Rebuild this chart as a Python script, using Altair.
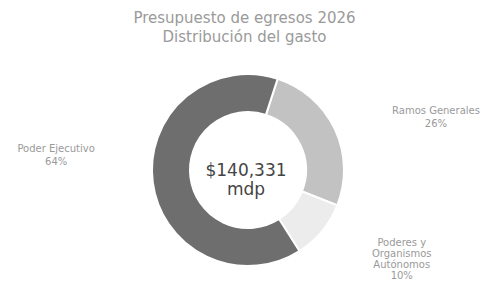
import math
import altair as alt
import pandas as pd

categories = ["Ramos Generales", "Poderes y Organismos Autónomos", "Poder Ejecutivo"]
shares = [26, 10, 64]
label_texts = ["Ramos Generales\n26%", "Poderes y\nOrganismos\nAutónomos\n10%", "Poder Ejecutivo\n64%"]
colors = ["#c2c2c2", "#ececec", "#6e6e6e"]
title_lines = ["Presupuesto de egresos 2026", "Distribución del gasto"]
center_lines = ["$140,331", "mdp"]

df = pd.DataFrame({
    "cat": categories,
    "share": shares,
    "label": label_texts,
    "idx": list(range(len(categories))),
})

start = 0.314
total = sum(shares)
FONT = "DejaVu Sans"
W, H = 473, 274
CX, CY = 240, 162

arc = alt.Chart(df).mark_arc(innerRadius=58, outerRadius=96, stroke="white", strokeWidth=2).encode(
    theta=alt.Theta("share:Q", stack=True, scale=alt.Scale(range=[start, start + 2 * math.pi])),
    order=alt.Order("idx:Q"),
    color=alt.Color("cat:N", scale=alt.Scale(domain=categories, range=colors), legend=None),
    x=alt.value(CX), y=alt.value(CY),
)

label_base = alt.Chart(df).transform_window(
    cum="sum(share)", sort=[alt.SortField("idx")], frame=[None, 0]
).transform_calculate(mid="datum.cum - datum.share / 2")


def label_layer(cat, radius, offset, lh):
    return label_base.transform_filter(alt.datum.cat == cat).mark_text(
        font=FONT, fontSize=10, lineHeight=lh, color="#9a9a9a", lineBreak="\n",
        radius=radius, thetaOffset=offset, align="center", baseline="middle",
    ).encode(
        theta=alt.Theta("mid:Q", scale=alt.Scale(domain=[0, total], range=[start, start + 2 * math.pi])),
        text="label:N", x=alt.value(CX), y=alt.value(CY),
    )


labels = (
    label_layer(categories[0], 197, 0.136, 12.5)
    + label_layer(categories[1], 170, -0.25, 11)
    + label_layer(categories[2], 193, 0.234, 12.5)
)


def text_line(txt, y, size, color, x):
    return alt.Chart(pd.DataFrame({"t": [txt]})).mark_text(
        font=FONT, fontSize=size, color=color, align="center", baseline="middle"
    ).encode(text="t:N", x=alt.value(x), y=alt.value(y))


title = text_line(title_lines[0], 10, 15, "#9a9a9a", W / 2) + text_line(title_lines[1], 29, 15, "#9a9a9a", W / 2)
center = text_line(center_lines[0], CY + 1, 17, "#444444", CX - 2) + text_line(center_lines[1], CY + 20, 17, "#444444", CX - 2)

chart = alt.layer(arc, labels, title, center).properties(
    width=W, height=H, autosize=alt.AutoSizeParams(type="none"), padding=0,
    background="white",
).configure_view(stroke=None)

chart.save("out.html", embed_options={"renderer": "svg", "actions": False})
